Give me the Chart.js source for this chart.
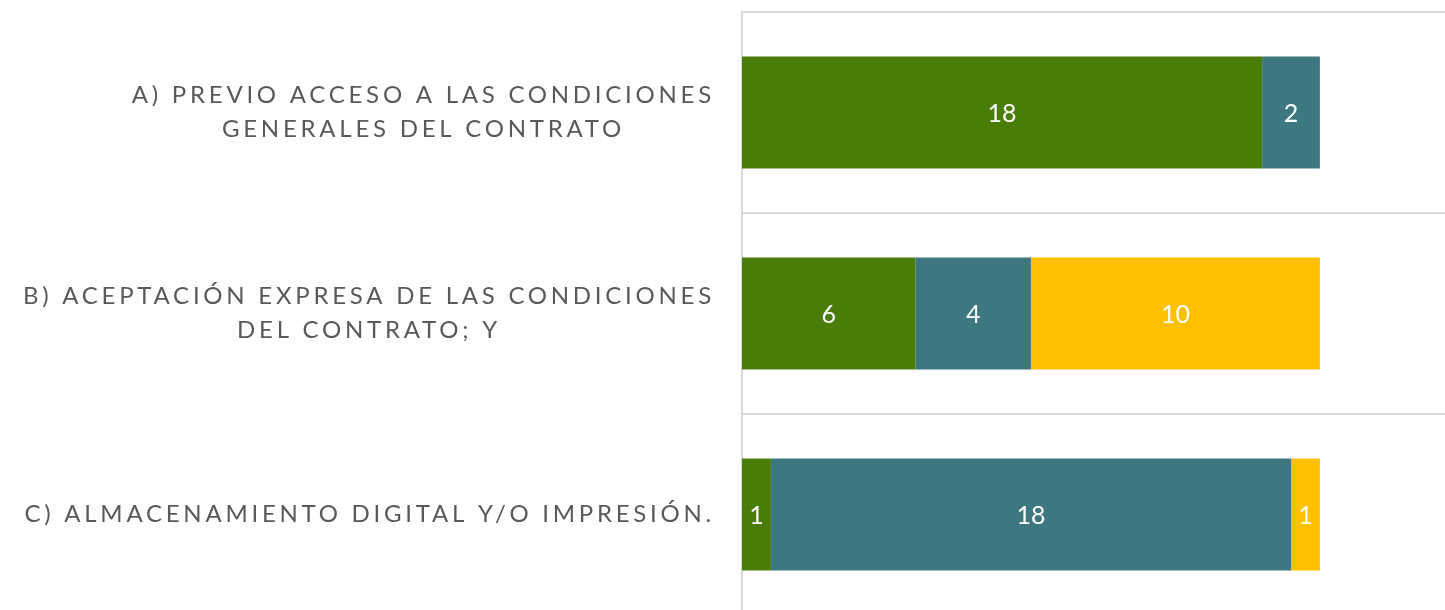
<!DOCTYPE html>
<html>
<head>
<meta charset="utf-8">
<script src="https://cdn.jsdelivr.net/npm/chart.js@4.4.1/dist/chart.umd.min.js"></script>
<style>
  html, body { margin: 0; padding: 0; background: #fff; overflow: hidden; }
  #wrap { position: relative; width: 1445px; height: 616px; }
</style>
</head>
<body>
<div id="wrap"><canvas id="chart"></canvas></div>
<script>
// categories (each one split into the lines it shows on)
const categories = [
    ['A) PREVIO ACCESO A LAS CONDICIONES', 'GENERALES DEL CONTRATO'],
    ['B) ACEPTACIÓN EXPRESA DE LAS CONDICIONES', 'DEL CONTRATO; Y'],
    ['C) ALMACENAMIENTO DIGITAL Y/O IMPRESIÓN.']
];
const seriesGreen = [18, 6, 1];
const seriesTeal = [2, 4, 18];
const seriesYellow = [0, 10, 1];
const xMax = 24.33;

const labelColor = '#595959';
const gridColor = '#d9d9d9';

const categoryLabels = {
    id: 'categoryLabels',
    afterDraw(chart) {
        const ctx = chart.ctx;
        const yScale = chart.scales.y;
        const rightEdge = chart.chartArea.left - 29;
        ctx.save();
        ctx.font = '400 24px Lato';
        ctx.letterSpacing = '3.75px';
        ctx.fillStyle = labelColor;
        ctx.textAlign = 'center';
        ctx.textBaseline = 'middle';
        const lineH = 34;
        categories.forEach((lines, i) => {
            const cy = yScale.getPixelForValue(i);
            const widest = Math.max(...lines.map(l => ctx.measureText(l).width));
            const cx = rightEdge - widest / 2 + 2;
            const top = cy - (lines.length - 1) * lineH / 2;
            lines.forEach((l, j) => ctx.fillText(l, cx, top + j * lineH));
        });
        ctx.restore();
    }
};

const barValues = {
    id: 'barValues',
    afterDatasetsDraw(chart) {
        const ctx = chart.ctx;
        ctx.save();
        ctx.font = '25px Lato';
        ctx.fillStyle = '#ffffff';
        ctx.textAlign = 'center';
        ctx.textBaseline = 'middle';
        chart.data.datasets.forEach((ds, di) => {
            chart.getDatasetMeta(di).data.forEach((bar, i) => {
                const v = ds.data[i];
                if (!v) return;
                const { x, y, base } = bar.getProps(['x', 'y', 'base'], true);
                ctx.fillText(String(v), (x + base) / 2, y + 1);
            });
        });
        ctx.restore();
    }
};

new Chart(document.getElementById('chart').getContext('2d'), {
    type: 'bar',
    data: {
        labels: categories,
        datasets: [
            { label: 'Green', data: seriesGreen, backgroundColor: '#4a7c08' },
            { label: 'Teal', data: seriesTeal, backgroundColor: '#3d7880' },
            { label: 'Yellow', data: seriesYellow, backgroundColor: '#ffc000' }
        ]
    },
    options: {
        indexAxis: 'y',
        responsive: true,
        maintainAspectRatio: false,
        animation: false,
        devicePixelRatio: 1,
        layout: { padding: { top: 12, bottom: 1, left: 0, right: 0 } },
        datasets: { bar: { categoryPercentage: 1, barPercentage: 0.557 } },
        scales: {
            x: { stacked: true, display: false, min: 0, max: xMax },
            y: {
                stacked: true,
                ticks: { display: false },
                grid: { color: gridColor, lineWidth: 2, drawTicks: false, offset: true },
                border: { display: true, color: gridColor, width: 2 },
                afterFit(scale) { scale.width = 742; }
            }
        },
        plugins: { legend: { display: false }, tooltip: { enabled: false } }
    },
    plugins: [categoryLabels, barValues]
});
</script>
</body>
</html>
